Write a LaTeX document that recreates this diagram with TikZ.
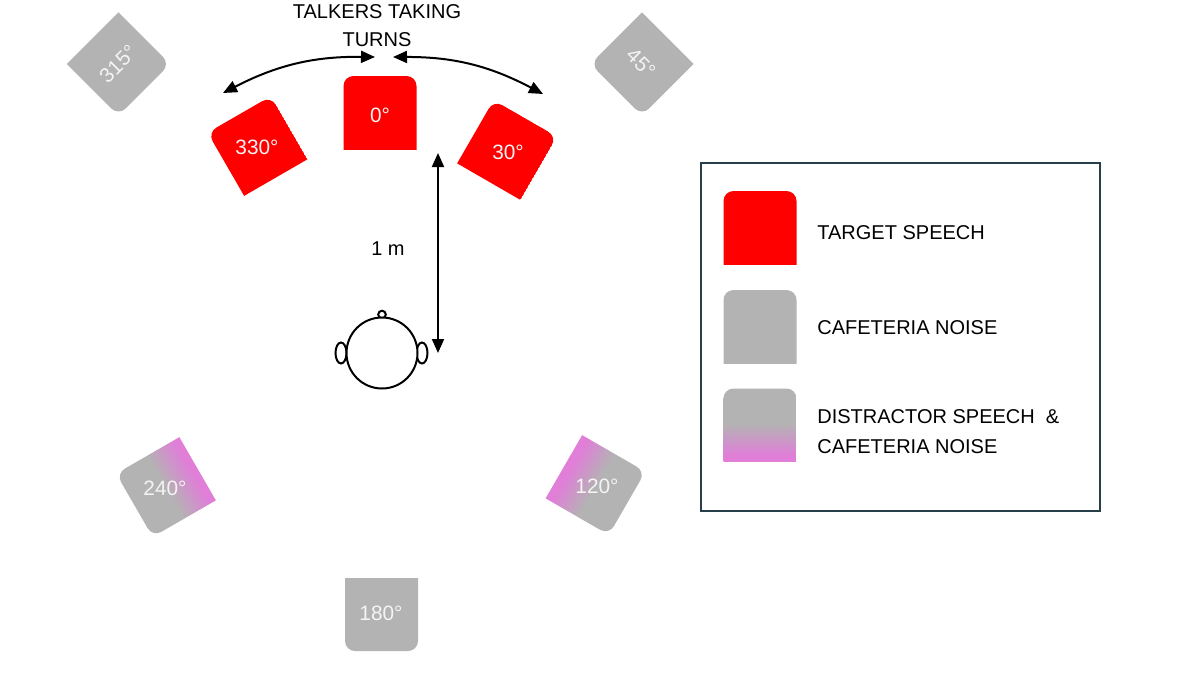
\documentclass[tikz,border=0pt]{standalone}
\usepackage{fontspec}
\setmainfont{Liberation Sans}
\usetikzlibrary{arrows.meta}
\definecolor{spkred}{HTML}{FF0000}
\definecolor{spkgray}{HTML}{B3B3B3}
\definecolor{spkpink}{HTML}{E07ED8}
\definecolor{legborder}{HTML}{263F4A}
\definecolor{lblwhite}{HTML}{F4F4F4}
\pgfdeclareverticalshading{distrshade}{100bp}{color(0bp)=(spkpink); color(37bp)=(spkpink); color(55bp)=(spkgray); color(100bp)=(spkgray)}
\tikzset{
  txt/.style={font=\fontsize{10}{14}\selectfont, inner sep=0pt, text=black},
  lbltxt/.style={font=\fontsize{10.4}{12}\selectfont, inner sep=0pt, text=lblwhite},
  dblarrow/.style={line width=1pt, {Triangle[length=7pt,width=6pt]}-{Triangle[length=7pt,width=6pt]}},
  outl/.style={draw=black, line width=1pt},
  redfill/.style={fill=spkred},
  grayfill/.style={fill=spkgray},
  mixfill/.style={shading=distrshade},
}
\newcommand\speakerbox[4]{%
  \begin{scope}[transform canvas={shift={(#1,#2)},rotate=#3}]
    \clip (-36.5,-36.5) rectangle (36.5,36.5);
    \path[#4, rounded corners=5pt] (-36.5,-36.5) rectangle (36.5,51.5);
  \end{scope}}
\begin{document}
\begin{tikzpicture}[x=0.5pt,y=-0.5pt]
\useasboundingbox (0,0) rectangle (1200,675);
\fill[white] (0,0) rectangle (1200,675);

% speakers
\speakerbox{380}{112.5}{0}{redfill}
\speakerbox{257.5}{146}{30}{redfill}
\speakerbox{507}{150}{-30}{redfill}
\speakerbox{118.5}{64}{-135}{grayfill}
\speakerbox{642}{64}{135}{grayfill}
\speakerbox{166}{487}{120}{mixfill}
\speakerbox{595.5}{485}{-120}{mixfill}
\speakerbox{381.5}{614.5}{180}{grayfill}

\node[lbltxt] (l0) at (380,115) {0°};
\node[lbltxt] (l330) at (257,147) {330°};
\node[lbltxt] (l30) at (508,152) {30°};
\node[lbltxt, rotate=45] (l315) at (118,64) {315°};
\node[lbltxt, rotate=-45] (l45) at (641,63) {45°};
\node[lbltxt] (l240) at (165,488) {240°};
\node[lbltxt] (l120) at (597,486) {120°};
\node[lbltxt] (l180) at (381,613) {180°};

% title and turn arrows
\node[txt, align=center] (title) at (377,26) {TALKERS TAKING\\TURNS};
\coordinate (tl1) at (223,93);
\coordinate (tl2) at (375,57);
\coordinate (tr1) at (393,57);
\coordinate (tr2) at (543,94);
\draw[dblarrow] (tl1) to[bend left=14] (tl2);
\draw[dblarrow] (tr1) to[bend left=14] (tr2);

% distance
\coordinate (v1) at (438,153);
\coordinate (v2) at (438,353);
\draw[dblarrow] (v1) -- (v2);
\node[txt] (dist) at (388,249) {1 m};

% head
\draw[outl] (382,314.5) circle[radius=3.8];
\draw[outl] (341,353) ellipse[x radius=5.5, y radius=10.5];
\draw[outl] (422,353) ellipse[x radius=5.5, y radius=10.5];
\node[circle, draw=black, fill=white, line width=1pt, minimum size=35.5pt, inner sep=0pt] (head) at (382,353) {};

% legend
\node[draw=legborder, line width=1.1pt, minimum width=199.5pt, minimum height=174pt, inner sep=0pt, anchor=north west] (legend) at (700,162) {};
\speakerbox{760}{227.5}{0}{redfill}
\speakerbox{760}{326.5}{0}{grayfill}
\speakerbox{760}{425}{0}{mixfill}
\node[txt, anchor=base west] (lt1) at (817,239) {TARGET SPEECH};
\node[txt, anchor=base west] (lt2) at (817,334) {CAFETERIA NOISE};
\node[txt, anchor=base west] (lt3) at (817,423) {DISTRACTOR SPEECH\ \ \&};
\node[txt, anchor=base west] (lt4) at (817,453) {CAFETERIA NOISE};
\end{tikzpicture}
\end{document}
